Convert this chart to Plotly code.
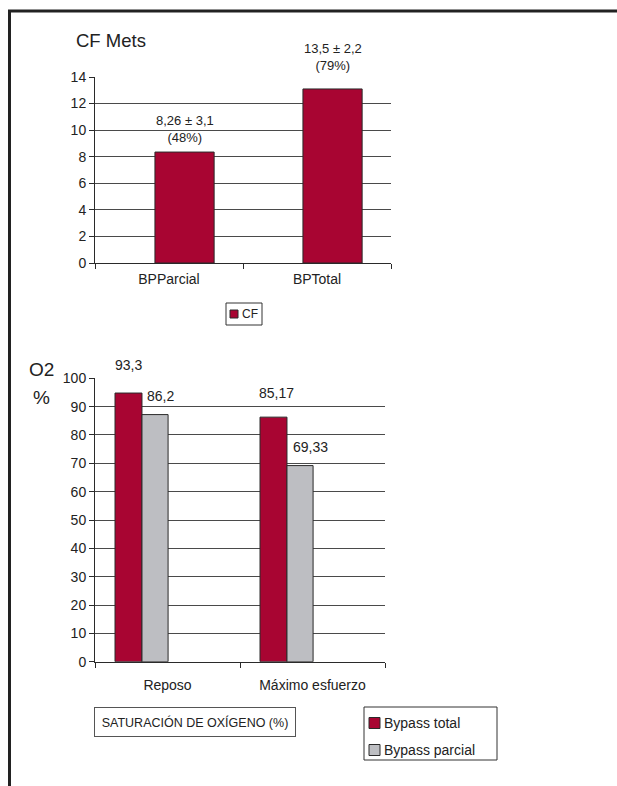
import plotly.graph_objects as go

# ---------------- data ----------------
cf_categories = ["BPParcial", "BPTotal"]
cf_values = [8.35, 13.1]
cf_labels = ["8,26 ± 3,1<br>(48%)", "13,5 ± 2,2<br>(79%)"]
cf_ticks = [0, 2, 4, 6, 8, 10, 12, 14]

o2_categories = ["Reposo", "Máximo esfuerzo"]
o2_total = [94.8, 86.3]
o2_parcial = [87.2, 69.2]
o2_total_labels = ["93,3", "85,17"]
o2_parcial_labels = ["86,2", "69,33"]
o2_ticks = [0, 10, 20, 30, 40, 50, 60, 70, 80, 90, 100]

# ---------------- style ----------------
W, H = 617, 786
# the page is photographed with the figure occupying rows 8..778
Y0, HEFF = 8.0, 770.0
RED = "#A80532"
GRAY = "#BDBEC2"
EDGE = "#2a2a2a"
GRID = "#4a4a4a"
TXT = "#222222"
FONT = "Liberation Sans, Arial, sans-serif"


def px_x(x):
    return x / W


def px_y(y):
    return 1 - (y - Y0) / HEFF


fig = go.Figure()

fig.add_trace(go.Bar(
    x=cf_categories, y=cf_values, name="CF",
    marker=dict(color=RED, line=dict(color=EDGE, width=1)),
    width=0.4, offset=-0.095,
    xaxis="x", yaxis="y", showlegend=False,
))

fig.add_trace(go.Bar(
    x=o2_categories, y=o2_total, name="Bypass total",
    marker=dict(color=RED, line=dict(color=EDGE, width=1)),
    width=0.186, offset=-0.362,
    xaxis="x2", yaxis="y2", showlegend=False,
))
fig.add_trace(go.Bar(
    x=o2_categories, y=o2_parcial, name="Bypass parcial",
    marker=dict(color=GRAY, line=dict(color=EDGE, width=1)),
    width=0.18, offset=-0.176,
    xaxis="x2", yaxis="y2", showlegend=False,
))

axis_common = dict(
    showline=True, linecolor=EDGE, linewidth=1,
    ticks="outside", ticklen=5, tickcolor=EDGE, tickwidth=1,
    tickfont=dict(family=FONT, size=14, color=TXT),
    zeroline=False,
)

annotations = []
shapes = []

# top chart value labels
cf_yshift = [5, 14]
for cat, v, lab, ys in zip(cf_categories, cf_values, cf_labels, cf_yshift):
    annotations.append(dict(
        x=cat, y=v, xref="x", yref="y", text=lab, showarrow=False,
        xshift=15.5, yshift=ys, yanchor="bottom",
        font=dict(family=FONT, size=13, color=TXT),
    ))

# bottom chart value labels
tot_shift = [(0, 18), (3, 14)]
par_shift = [(32, 9), (37, 9)]
for cat, v, lab, (xs, ys) in zip(o2_categories, o2_total, o2_total_labels, tot_shift):
    annotations.append(dict(
        x=cat, y=v, xref="x2", yref="y2", text=lab, showarrow=False,
        xshift=-39 + xs, yshift=ys, yanchor="bottom",
        font=dict(family=FONT, size=14, color=TXT),
    ))
for cat, v, lab, (xs, ys) in zip(o2_categories, o2_parcial, o2_parcial_labels, par_shift):
    annotations.append(dict(
        x=cat, y=v, xref="x2", yref="y2", text=lab, showarrow=False,
        xshift=-39 + xs, yshift=ys, yanchor="bottom",
        font=dict(family=FONT, size=14, color=TXT),
    ))

# titles
annotations.append(dict(
    x=px_x(74), y=px_y(40), xref="paper", yref="paper", text="CF Mets",
    showarrow=False, xanchor="left", yanchor="middle",
    font=dict(family=FONT, size=18.5, color=TXT),
))
annotations.append(dict(
    x=px_x(41), y=px_y(369), xref="paper", yref="paper", text="O2",
    showarrow=False, xanchor="center", yanchor="middle",
    font=dict(family=FONT, size=19, color=TXT),
))
annotations.append(dict(
    x=px_x(42), y=px_y(397), xref="paper", yref="paper", text="%",
    showarrow=False, xanchor="center", yanchor="middle",
    font=dict(family=FONT, size=19, color=TXT),
))
annotations.append(dict(
    x=px_x(195), y=px_y(722), xref="paper", yref="paper",
    text="SATURACIÓN DE OXÍGENO (%)",
    showarrow=False, xanchor="center", yanchor="middle",
    width=192, height=20, borderpad=4,
    bordercolor="#555555", borderwidth=1,
    font=dict(family=FONT, size=12.5, color=TXT),
))


# custom legends (box, swatch, label)
def legend_box(x0, y0, x1, y1):
    shapes.append(dict(type="rect", xref="paper", yref="paper",
                       x0=px_x(x0), x1=px_x(x1), y0=px_y(y1), y1=px_y(y0),
                       line=dict(color="#333333", width=1), fillcolor="white",
                       layer="above"))


def legend_item(sx, sy, size, color, label, fsize):
    shapes.append(dict(type="rect", xref="paper", yref="paper",
                       x0=px_x(sx), x1=px_x(sx + size),
                       y0=px_y(sy + size / 2), y1=px_y(sy - size / 2),
                       line=dict(color=EDGE, width=1), fillcolor=color,
                       layer="above"))
    annotations.append(dict(
        x=px_x(sx + size + 2), y=px_y(sy), xref="paper", yref="paper",
        text=label, showarrow=False, xanchor="left", yanchor="middle",
        font=dict(family=FONT, size=fsize, color=TXT),
    ))


legend_box(226, 303, 262, 325)
legend_item(230, 314, 8, RED, "CF", 12)
legend_box(364, 707, 497, 760)
legend_item(369, 723, 11, RED, "Bypass total", 14)
legend_item(369, 750, 11, GRAY, "Bypass parcial", 14)

# page frame (top and left rules)
shapes += [
    dict(type="line", xref="paper", yref="paper",
         x0=px_x(8), x1=1.0, y0=px_y(11), y1=px_y(11),
         line=dict(color="#222222", width=3)),
    dict(type="line", xref="paper", yref="paper",
         x0=px_x(9.5), x1=px_x(9.5), y0=px_y(10), y1=-0.05,
         line=dict(color="#222222", width=3)),
]

fig.update_layout(
    width=W, height=H,
    margin=dict(l=0, r=0, t=0, b=0),
    paper_bgcolor="white", plot_bgcolor="white",
    barmode="overlay",
    font=dict(family=FONT, color=TXT),
    xaxis=dict(domain=[px_x(95), px_x(391)], anchor="y",
               tickson="boundaries", showgrid=False,
               range=[-0.5, 1.5], ticklabelstandoff=3, **axis_common),
    yaxis=dict(domain=[px_y(263), px_y(77)], anchor="x",
               range=[0, 14], tickvals=cf_ticks,
               showgrid=True, gridcolor=GRID, gridwidth=1, **axis_common),
    xaxis2=dict(domain=[px_x(95), px_x(385)], anchor="y2",
                tickson="boundaries", showgrid=False,
                range=[-0.5, 1.5], ticklabelstandoff=10, **axis_common),
    yaxis2=dict(domain=[px_y(661.7), px_y(378.3)], anchor="x2",
                range=[0, 100], tickvals=o2_ticks,
                showgrid=True, gridcolor=GRID, gridwidth=1, **axis_common),
    annotations=annotations,
    shapes=shapes,
    showlegend=False,
)

fig.write_html("out.html", config={"displayModeBar": False},
               post_script="document.body.style.margin='0';")
